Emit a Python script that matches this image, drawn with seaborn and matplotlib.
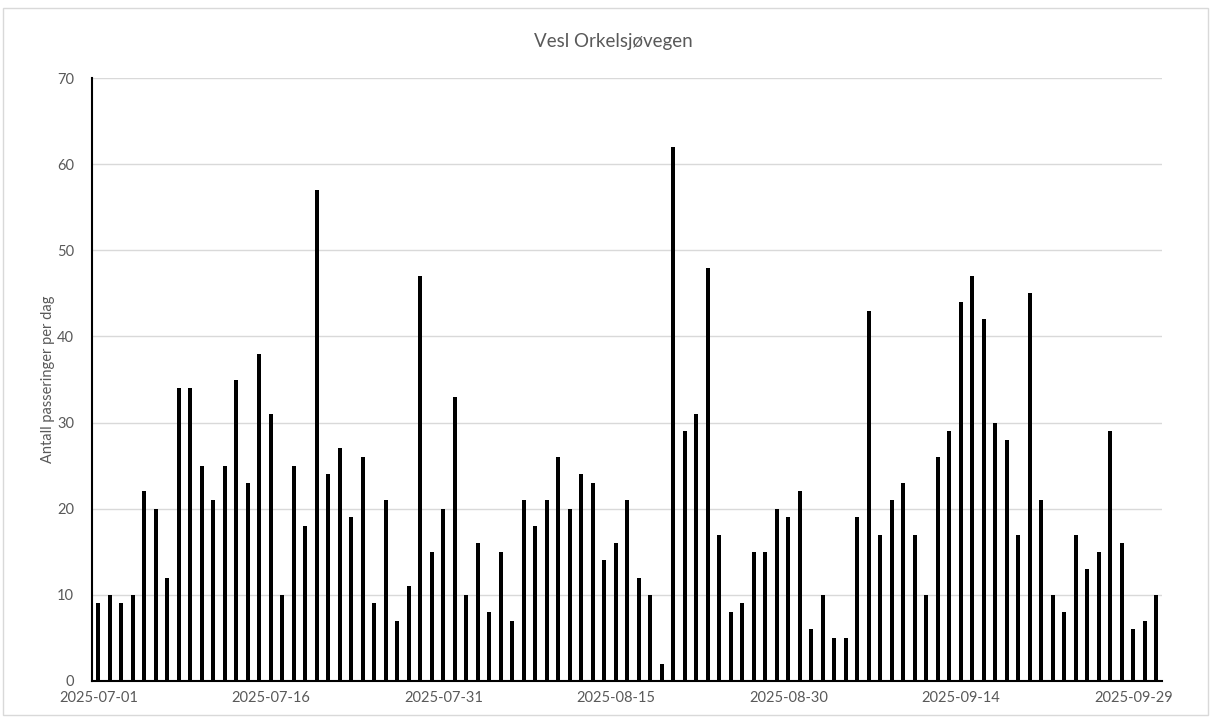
import matplotlib
matplotlib.use("Agg")
import matplotlib.pyplot as plt
import pandas as pd
import seaborn as sns
from matplotlib.patches import Rectangle

title = "Vesl Orkelsjøvegen"
ylabel = "Antall passeringer per dag"
start_date = "2025-07-01"

# passeringer per dag, 2025-07-01 .. 2025-10-01
counts = [
    9, 10, 9, 10, 22, 20, 12, 34, 34, 25, 21, 25, 35, 23, 38, 31, 10, 25, 18, 57, 24, 27, 19,
    26, 9, 21, 7, 11, 47, 15, 20, 33, 10, 16, 8, 15, 7, 21, 18, 21, 26, 20, 24, 23, 14, 16,
    21, 12, 10, 2, 62, 29, 31, 48, 17, 8, 9, 15, 15, 20, 19, 22, 6, 10, 5, 5, 19, 43, 17,
    21, 23, 17, 10, 26, 29, 44, 47, 42, 30, 28, 17, 45, 21, 10, 8, 17, 13, 15, 29, 16, 6, 7, 10,
]
dates = pd.date_range(start_date, periods=len(counts)).strftime("%Y-%m-%d").tolist()

df = pd.DataFrame({"dato": dates, "antall": counts})

sns.set_theme(style="white")
plt.rcParams["font.family"] = ["Lato", "DejaVu Sans"]

text_color = "#595959"
grid_color = "#d9d9d9"

fig = plt.figure(figsize=(12.12, 7.18), dpi=100)
ax = fig.add_axes([92 / 1212, 1 - 681 / 718, 1070 / 1212, 603 / 718])

sns.barplot(data=df, x="dato", y="antall", color="black", width=0.34,
            saturation=1, linewidth=0, ax=ax, zorder=3)

ax.set_ylim(0, 70)
ax.set_yticks(range(0, 71, 10))
ax.set_xlim(-0.55, len(counts) - 0.5)
tick_pos = list(range(0, len(dates), 15))
ax.set_xticks(tick_pos)
ax.set_xticklabels([dates[i] for i in tick_pos])

ax.grid(axis="y", color=grid_color, linewidth=1, zorder=0)
ax.set_axisbelow(True)
for side in ["top", "right"]:
    ax.spines[side].set_visible(False)
ax.spines["left"].set_color("black")
ax.spines["left"].set_linewidth(1.5)
ax.spines["bottom"].set_color("black")
ax.spines["bottom"].set_linewidth(1.5)

ax.tick_params(axis="both", length=0, labelsize=10.5, labelcolor=text_color)
ax.tick_params(axis="x", pad=7)
ax.tick_params(axis="y", pad=13)
ax.set_xlabel("")
ax.set_ylabel(ylabel, fontsize=10.5, color=text_color, labelpad=1)

fig.text(0.506, 1 - 42 / 718, title, ha="center", va="center",
         fontsize=13.5, color=text_color)

fig.patches.append(Rectangle((3 / 1212, 3 / 718), 1205 / 1212, 1 - 11 / 718,
                             transform=fig.transFigure, fill=False,
                             edgecolor=grid_color, linewidth=1))

fig.savefig("out.png", dpi=100)
